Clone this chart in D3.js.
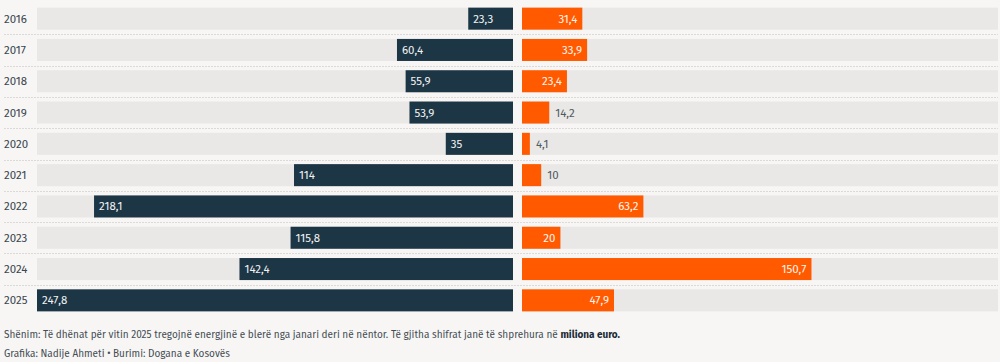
<!DOCTYPE html>
<html>
<head>
<meta charset="utf-8">
<script src="https://cdn.jsdelivr.net/npm/d3@7"></script>
<style>
  html, body { margin: 0; padding: 0; background: #f7f6f4; }
  body { font-family: "Fira Sans", "Noto Sans", sans-serif; }
  svg { display: block; }
  .year { font-size: 11.5px; fill: #3a4650; }
  .val { font-size: 11.5px; }
  .note { font-size: 10px; fill: #444c54; }
</style>
</head>
<body>
<svg width="1000" height="362"></svg>
<script>
  const years = ["2016", "2017", "2018", "2019", "2020", "2021", "2022", "2023", "2024", "2025"];
  const importsVal = [23.3, 60.4, 55.9, 53.9, 35, 114, 218.1, 115.8, 142.4, 247.8];
  const exportsVal = [31.4, 33.9, 23.4, 14.2, 4.1, 10, 63.2, 20, 150.7, 47.9];
  const maxVal = 247.8;

  const fmt = v => String(v).replace(".", ",");
  const svg = d3.select("svg");

  const y = d3.scaleBand().domain(years).range([3, 316]).paddingInner(0.296).paddingOuter(0.148);
  const xL = d3.scaleLinear().domain([0, maxVal]).range([513, 37]);
  const xR = d3.scaleLinear().domain([0, maxVal]).range([522, 998]);

  const rows = svg.selectAll("g.row").data(years).enter().append("g").attr("class", "row");

  // dotted separators
  years.slice(0, -1).forEach(yr => {
    const yy = Math.round(y(yr) + y.bandwidth() + (y.step() - y.bandwidth()) / 2) + 0.5;
    svg.append("line").attr("x1", 4).attr("x2", 998).attr("y1", yy).attr("y2", yy)
      .attr("stroke", "#dcdad7").attr("stroke-dasharray", "2,1");
  });

  // panel backgrounds
  rows.append("rect").attr("x", xL(maxVal)).attr("width", xL(0) - xL(maxVal))
    .attr("y", d => y(d)).attr("height", y.bandwidth()).attr("fill", "#e9e8e6");
  rows.append("rect").attr("x", xR(0)).attr("width", xR(maxVal) - xR(0))
    .attr("y", d => y(d)).attr("height", y.bandwidth()).attr("fill", "#e9e8e6");

  rows.append("text").attr("class", "year").attr("x", 4)
    .attr("y", d => y(d) + y.bandwidth() / 2).attr("dy", "0.35em").text(d => d);

  // left (dark) bars
  rows.append("rect").attr("x", (d, i) => xL(importsVal[i])).attr("width", (d, i) => xL(0) - xL(importsVal[i]))
    .attr("y", d => y(d)).attr("height", y.bandwidth()).attr("fill", "#1c3646");
  rows.append("text").attr("class", "val").attr("fill", "#f2f2f2")
    .attr("x", (d, i) => xL(importsVal[i]) + 5)
    .attr("y", d => y(d) + y.bandwidth() / 2).attr("dy", "0.35em")
    .text((d, i) => fmt(importsVal[i]));

  // right (orange) bars
  rows.append("rect").attr("x", xR(0)).attr("width", (d, i) => xR(exportsVal[i]) - xR(0))
    .attr("y", d => y(d)).attr("height", y.bandwidth()).attr("fill", "#ff5a00");
  rows.append("text").attr("class", "val")
    .each(function(d, i) {
      const v = exportsVal[i];
      const inside = xR(v) - xR(0) > 32;
      d3.select(this)
        .attr("x", inside ? xR(v) - 5 : xR(v) + 6)
        .attr("text-anchor", inside ? "end" : "start")
        .attr("fill", inside ? "#fff4ec" : "#505a62");
    })
    .attr("y", d => y(d) + y.bandwidth() / 2).attr("dy", "0.35em")
    .text((d, i) => fmt(exportsVal[i]));

  // notes
  const n1 = svg.append("text").attr("class", "note").attr("x", 4).attr("y", 338);
  n1.append("tspan").text("Shënim: Të dhënat për vitin 2025 tregojnë energjinë e blerë nga janari deri në nëntor. Të gjitha shifrat janë të shprehura në ");
  n1.append("tspan").attr("font-weight", "bold").attr("fill", "#1c2a36").text("miliona euro.");
  svg.append("text").attr("class", "note").attr("x", 4).attr("y", 357)
    .text("Grafika: Nadije Ahmeti • Burimi: Dogana e Kosovës");
</script>
</body>
</html>
